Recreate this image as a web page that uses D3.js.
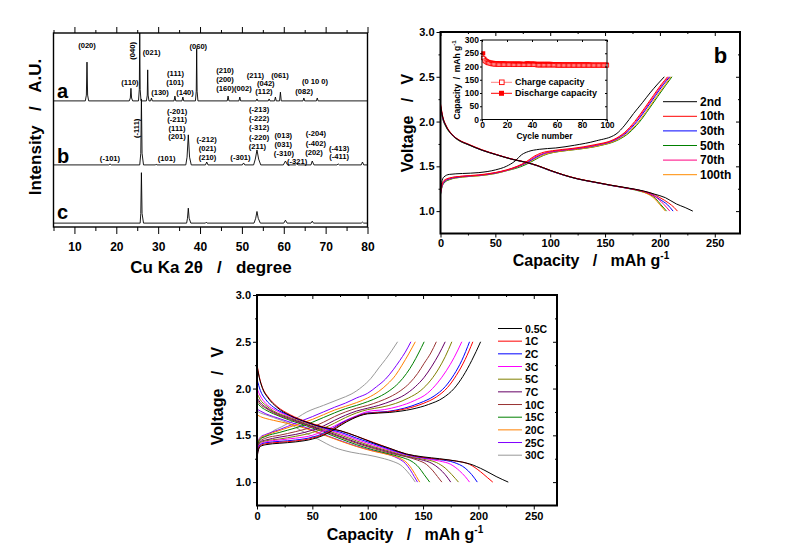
<!DOCTYPE html>
<html><head><meta charset="utf-8">
<script src="https://cdn.jsdelivr.net/npm/d3@7/dist/d3.min.js"></script>
<style>
html,body{margin:0;padding:0;background:#fff;}
svg{display:block;}
</style></head>
<body>
<svg id="fig" width="794" height="547" xmlns="http://www.w3.org/2000/svg"></svg>
<script>
// ================= DATA =================
// --- Panel a: XRD patterns ([2theta, relative intensity]) ---
const xrdTicks = [10,20,30,40,50,60,70,80];
const xrdMinor = [5,15,25,35,45,55,65,75];
const xrdNames = ["a","b","c"];
const xrdOffsets = [65,32,2];
const xrdA = [[5,0],[12.6,0],[12.85,3],[13.0,20],[13.15,3],[13.4,0],[23.1,0],[23.35,1.5],[23.5,6.5],[23.65,1.5],[23.9,0],
 [25.3,0],[25.5,6],[25.6,35],[25.7,6],[25.9,0],[27.2,0],[27.4,3],[27.5,16],[27.6,3],[27.8,0],[28.2,0],[28.4,1.5],[28.6,0],
 [33.8,0],[34.0,2.5],[34.2,0],[35.7,0],[35.9,2],[36.1,0],[38.9,0],[39.1,5],[39.2,27],[39.3,5],[39.5,0],
 [46.5,0],[46.7,2.5],[46.9,0],[49.3,0],[49.5,2],[49.7,0],[53.4,0],[53.6,1],[53.8,0],[56.3,0],[56.5,1],[56.7,0],
 [57.8,0],[58.0,2],[58.2,0],[59.0,0],[59.2,4.5],[59.4,0],[64.6,0],[64.8,1.5],[65.0,0],[67.8,0],[68.0,1.5],[68.2,0],[80,0]];
const xrdB = [[5,0],[18.2,0],[18.5,0.5],[18.8,0],[25.6,0],[25.85,6],[26.0,34],[26.15,6],[26.5,0],[29.3,0],[29.5,0.4],[29.7,0],
 [36.6,0],[36.9,4],[37.2,15.5],[37.5,4],[37.9,0],[41.3,0],[41.6,1.5],[41.9,0],[50.1,0],[50.4,1],[50.7,0],
 [52.8,0],[53.2,3],[53.6,7.7],[54.0,3],[54.5,0],[59.9,0],[60.4,2],[60.9,0],[62.8,0],[63.1,0.6],[63.4,0],
 [66.5,0],[66.8,2],[67.2,0],[72.7,0],[73.0,0.5],[73.3,0],[78.5,0],[78.8,1.5],[79.1,0],[80,0]];
const xrdC = [[5,0],[25.7,0],[25.85,5],[26.0,26],[26.15,5],[26.5,0],[36.8,0],[37.0,2.5],[37.2,7.7],[37.4,2.5],[37.8,0],
 [41.3,0],[41.5,0.5],[41.7,0],[52.9,0],[53.3,2.5],[53.6,6],[53.9,2.5],[54.4,0],[60.0,0],[60.4,1.5],[60.8,0],
 [66.5,0],[66.8,1],[67.1,0],[78.5,0],[78.8,0.5],[79.1,0],[80,0]];
const xrdPatterns = [xrdA, xrdB, xrdC];
const xrdLabelsA = [["(020)",87,45],["(040)",132.5,50.8,true],["(021)",151.7,52.3],["(060)",198.3,46],
 ["(110)",130,81.7],["(111)",175.5,73.3],["(101)",175,81.7],["(130)",160,92.3],["(140)",185,91.7],
 ["(210)",225,70],["(200)",225,79.3],["(160)(002)",234,88.3],["(211)",255.5,74.8],["(061)",280,74.8],
 ["(042)",265.8,82.6],["(112)",264,91],["(0 10 0)",315,80.7],["(082)",304.2,91]];
const xrdLabelsB = [["(-111)",135.8,128.3,true],["(-201)",177.2,111],["(-211)",177.2,119.3],["(111)",177,127.7],["(201)",177,136],
 ["(-212)",206.7,139.3],["(021)",207.5,148.3],["(210)",207.5,156.7],["(-101)",110,157.7],["(101)",166.7,158.3],
 ["(-301)",240.5,156.7],["(-213)",259.2,109.3],["(-222)",259.2,118.3],["(-312)",259.2,127.3],["(-220)",259.2,136.7],
 ["(211)",257.5,146],["(013)",283.3,135],["(031)",283.3,144],["(-310)",284,152.7],["(-321)",297.2,160.5],
 ["(-204)",315.8,133.3],["(-402)",315.8,142.7],["(202)",314,152.3],["(-413)",339.2,147.7],["(-411)",339.2,156]];

// --- Panel b: cycling ([capacity mAh/g, voltage V]) ---
const capTicks = [0,50,100,150,200,250];
const capMinor = [25,75,125,175,225];
const vTicks = [1.0,1.5,2.0,2.5,3.0];
const vMinor = [1.25,1.75,2.25,2.75];
const bNames = ["2nd","10th","30th","50th","70th","100th"];
const bColors = ["#000000","#ff0000","#0000ff","#008000","#ff0080","#ff8c00"];
const bCharge = [
 [[0,1.22],[1,1.32],[3,1.38],[8,1.41],[20,1.42],[35,1.43],[50,1.46],[60,1.50],[68,1.56],[74,1.63],[80,1.665],[90,1.69],[105,1.705],[122,1.735],[142,1.785],[160,1.86],[168,1.96],[176,2.09],[184,2.21],[191,2.32],[198,2.42],[204,2.5]],
 [[0,1.2],[1,1.28],[3,1.34],[8,1.37],[20,1.39],[35,1.405],[50,1.43],[60,1.46],[70,1.50],[78,1.55],[85,1.61],[92,1.65],[102,1.675],[120,1.70],[140,1.74],[158,1.80],[168,1.88],[177,2.0],[186,2.15],[194,2.29],[201,2.41],[207,2.5]],
 [[0,1.19],[1,1.26],[3,1.32],[8,1.36],[20,1.385],[35,1.40],[50,1.425],[60,1.455],[70,1.495],[80,1.55],[87,1.60],[95,1.645],[105,1.67],[122,1.695],[142,1.735],[160,1.80],[170,1.88],[179,2.0],[188,2.15],[196,2.29],[203,2.41],[209,2.5]],
 [[0,1.18],[1,1.25],[3,1.31],[8,1.35],[20,1.38],[35,1.395],[50,1.42],[60,1.45],[72,1.49],[82,1.545],[90,1.60],[98,1.64],[108,1.665],[125,1.69],[145,1.73],[162,1.795],[172,1.875],[181,1.99],[190,2.14],[198,2.28],[205,2.40],[211,2.5]],
 [[0,1.2],[1,1.27],[3,1.33],[8,1.365],[20,1.39],[35,1.40],[50,1.43],[60,1.455],[70,1.50],[79,1.55],[86,1.605],[94,1.645],[104,1.67],[121,1.695],[141,1.735],[159,1.80],[169,1.88],[178,2.0],[187,2.15],[195,2.29],[202,2.41],[208,2.5]],
 [[0,1.19],[1,1.26],[3,1.32],[8,1.355],[20,1.38],[35,1.395],[50,1.42],[60,1.45],[71,1.495],[81,1.55],[89,1.60],[97,1.64],[107,1.665],[124,1.69],[144,1.73],[161,1.795],[171,1.875],[180,1.99],[189,2.14],[197,2.28],[204,2.40],[210,2.5]]
];
const bDischarge = [
 [[0,2.18],[2,2.05],[5,1.95],[10,1.86],[17,1.79],[25,1.745],[38,1.68],[51,1.63],[65,1.58],[78,1.545],[88,1.51],[100,1.455],[112,1.405],[125,1.36],[140,1.325],[155,1.29],[170,1.26],[185,1.225],[195,1.19],[205,1.15],[215,1.08],[223,1.04],[230,1.0]],
 [[0,2.2],[2,2.06],[5,1.96],[10,1.865],[17,1.795],[25,1.75],[38,1.685],[51,1.632],[65,1.582],[78,1.546],[88,1.51],[100,1.455],[112,1.405],[125,1.362],[140,1.325],[155,1.29],[170,1.258],[185,1.222],[192,1.2],[200,1.15],[208,1.09],[213,1.04],[216,1.0]],
 [[0,2.17],[2,2.04],[5,1.95],[10,1.86],[17,1.79],[25,1.745],[38,1.68],[51,1.63],[65,1.58],[78,1.544],[88,1.508],[100,1.452],[112,1.403],[125,1.36],[140,1.323],[155,1.288],[170,1.256],[185,1.22],[192,1.19],[200,1.13],[207,1.07],[212,1.0]],
 [[0,2.15],[2,2.03],[5,1.94],[10,1.855],[17,1.785],[25,1.742],[38,1.678],[51,1.628],[65,1.578],[78,1.542],[88,1.506],[100,1.45],[112,1.402],[125,1.358],[140,1.322],[155,1.287],[170,1.255],[184,1.215],[190,1.19],[196,1.14],[201,1.07],[206,1.0]],
 [[0,2.19],[2,2.05],[5,1.955],[10,1.862],[17,1.792],[25,1.748],[38,1.682],[51,1.631],[65,1.581],[78,1.545],[88,1.509],[100,1.454],[112,1.404],[125,1.36],[140,1.324],[155,1.289],[170,1.257],[185,1.22],[191,1.19],[198,1.14],[204,1.07],[209,1.0]],
 [[0,2.17],[2,2.04],[5,1.948],[10,1.858],[17,1.788],[25,1.744],[38,1.68],[51,1.63],[65,1.58],[78,1.546],[88,1.51],[100,1.456],[112,1.406],[125,1.362],[140,1.326],[155,1.29],[170,1.258],[183,1.22],[189,1.19],[195,1.14],[200,1.07],[205,1.0]]
];
// inset: capacity vs cycle number
const cycTicks = [0,20,40,60,80,100];
const insetCapTicks = [0,50,100,150,200,250,300];
const insetDischarge = [250,229,223,220,218,216,215,214,214,213,
 213,213,212,212,212,212,212,212,211,211,
 211,211,211,211,211,211,211,211,211,211,
 211,210,210,210,211,212,212,211,211,211,
 211,211,210,210,210,210,210,210,210,210,
 210,210,210,210,210,209,209,209,209,209,
 209,209,208,208,208,208,208,208,208,208,
 208,208,208,208,208,208,208,208,208,208,
 208,208,208,208,208,208,207,207,207,207,
 207,207,207,207,207,207,207,207,207,207];
const insetCharge = [232,222,218,215,213,212,210,209,209,208,
 208,208,207,207,207,207,207,207,207,207,
 207,207,207,207,206,206,206,206,206,206,
 206,206,206,206,206,206,206,206,206,206,
 206,206,206,205,205,205,205,205,205,205,
 205,205,205,205,205,205,205,205,205,204,
 204,204,204,204,204,204,204,204,204,204,
 204,204,204,204,204,204,204,204,204,204,
 204,204,204,204,204,204,204,204,204,204,
 204,204,204,204,204,204,204,204,204,204];

// --- Panel c: rate capability ---
const cNames = ["0.5C","1C","2C","3C","5C","7C","10C","15C","20C","25C","30C"];
const cColors = ["#000000","#ff0000","#0000ff","#ff00ff","#808000","#660066","#993333","#008000","#ff8000","#8000ff","#999999"];
const cCharge = [
 [[0,1.25],[1,1.33],[3,1.38],[8,1.40],[20,1.415],[35,1.43],[50,1.46],[60,1.50],[68,1.55],[76,1.61],[86,1.675],[100,1.73],[120,1.745],[140,1.78],[155,1.83],[168,1.90],[178,2.0],[186,2.13],[194,2.3],[202,2.5]],
 [[0,1.26],[1,1.34],[3,1.39],[8,1.41],[20,1.425],[35,1.44],[50,1.47],[60,1.51],[68,1.56],[76,1.62],[86,1.68],[100,1.735],[118,1.75],[135,1.785],[150,1.84],[162,1.91],[172,2.01],[180,2.14],[188,2.31],[195,2.5]],
 [[0,1.27],[1,1.35],[3,1.40],[8,1.42],[20,1.435],[35,1.45],[50,1.48],[60,1.52],[68,1.57],[76,1.63],[86,1.685],[100,1.74],[118,1.755],[133,1.79],[147,1.845],[160,1.92],[170,2.02],[178,2.15],[185,2.3],[192,2.5]],
 [[0,1.28],[1,1.36],[3,1.41],[8,1.43],[20,1.45],[35,1.47],[50,1.50],[60,1.545],[70,1.60],[80,1.66],[90,1.71],[100,1.755],[115,1.775],[128,1.81],[142,1.87],[154,1.95],[163,2.06],[171,2.19],[178,2.33],[185,2.5]],
 [[0,1.29],[1,1.37],[3,1.42],[8,1.44],[20,1.46],[35,1.49],[50,1.53],[60,1.575],[70,1.63],[80,1.69],[90,1.74],[100,1.775],[112,1.80],[125,1.84],[137,1.90],[148,1.98],[157,2.09],[164,2.21],[170,2.34],[176,2.5]],
 [[0,1.30],[1,1.38],[3,1.43],[8,1.45],[20,1.48],[35,1.51],[50,1.555],[60,1.60],[70,1.66],[80,1.715],[90,1.76],[100,1.79],[110,1.82],[122,1.87],[133,1.93],[143,2.02],[151,2.12],[158,2.24],[164,2.36],[170,2.5]],
 [[0,1.31],[1,1.39],[3,1.44],[8,1.47],[20,1.50],[35,1.54],[50,1.59],[60,1.64],[70,1.70],[80,1.75],[90,1.79],[100,1.82],[110,1.86],[120,1.91],[130,1.98],[138,2.06],[145,2.16],[151,2.27],[157,2.38],[162,2.5]],
 [[0,1.33],[1,1.41],[3,1.46],[8,1.49],[20,1.53],[35,1.58],[50,1.64],[60,1.69],[70,1.74],[80,1.785],[90,1.82],[100,1.86],[110,1.91],[120,1.98],[128,2.06],[135,2.16],[141,2.27],[146,2.38],[151,2.5]],
 [[0,1.34],[1,1.42],[3,1.47],[8,1.50],[20,1.55],[35,1.61],[50,1.67],[60,1.72],[70,1.77],[80,1.81],[90,1.85],[100,1.90],[110,1.97],[118,2.05],[125,2.14],[131,2.25],[137,2.37],[143,2.5]],
 [[0,1.35],[1,1.43],[3,1.48],[8,1.51],[20,1.56],[35,1.63],[50,1.70],[60,1.75],[70,1.80],[80,1.845],[90,1.90],[100,1.95],[108,2.02],[116,2.10],[123,2.2],[129,2.3],[134,2.39],[139,2.5]],
 [[0,1.36],[1,1.42],[3,1.46],[8,1.49],[15,1.55],[22,1.59],[30,1.64],[45,1.75],[60,1.82],[75,1.89],[85,1.94],[95,2.02],[103,2.11],[110,2.22],[116,2.31],[122,2.41],[127,2.5]]
];
const cDischarge = [
 [[0,2.24],[2,2.12],[5,2.0],[10,1.9],[18,1.80],[30,1.71],[45,1.64],[60,1.585],[75,1.55],[90,1.49],[105,1.42],[120,1.36],[135,1.30],[150,1.27],[165,1.25],[180,1.225],[192,1.195],[205,1.13],[216,1.06],[227,1.0]],
 [[0,2.26],[2,2.13],[5,2.01],[10,1.91],[18,1.81],[30,1.72],[45,1.645],[60,1.59],[75,1.55],[90,1.49],[105,1.425],[120,1.36],[135,1.30],[150,1.265],[165,1.245],[180,1.225],[192,1.19],[202,1.11],[208,1.05],[213,1.0]],
 [[0,2.1],[3,1.98],[8,1.88],[15,1.80],[30,1.71],[45,1.64],[60,1.58],[75,1.535],[90,1.47],[105,1.41],[120,1.35],[135,1.295],[150,1.26],[165,1.24],[178,1.21],[188,1.15],[194,1.08],[199,1.0]],
 [[0,2.0],[3,1.92],[8,1.84],[15,1.78],[30,1.70],[45,1.635],[60,1.575],[75,1.52],[90,1.455],[105,1.395],[120,1.34],[135,1.29],[150,1.255],[165,1.225],[175,1.19],[183,1.12],[188,1.06],[192,1.0]],
 [[0,1.95],[3,1.88],[8,1.82],[15,1.76],[30,1.69],[45,1.625],[60,1.565],[75,1.505],[90,1.44],[105,1.38],[120,1.33],[135,1.28],[150,1.245],[162,1.21],[170,1.15],[176,1.08],[182,1.0]],
 [[0,1.9],[3,1.85],[8,1.80],[15,1.75],[30,1.68],[45,1.615],[60,1.555],[75,1.49],[90,1.425],[105,1.37],[120,1.32],[135,1.275],[148,1.24],[158,1.20],[165,1.14],[170,1.08],[175,1.0]],
 [[0,1.88],[3,1.83],[8,1.79],[15,1.74],[30,1.67],[45,1.61],[60,1.545],[75,1.48],[90,1.415],[105,1.36],[120,1.31],[135,1.27],[145,1.235],[153,1.19],[159,1.12],[163,1.06],[167,1.0]],
 [[0,1.85],[3,1.81],[8,1.77],[15,1.73],[30,1.66],[45,1.60],[60,1.535],[75,1.465],[90,1.40],[105,1.345],[120,1.30],[132,1.26],[140,1.22],[146,1.16],[151,1.08],[156,1.0]],
 [[0,1.72],[3,1.70],[8,1.68],[15,1.66],[30,1.62],[45,1.57],[60,1.505],[75,1.44],[90,1.38],[105,1.33],[120,1.29],[130,1.25],[136,1.2],[141,1.12],[144,1.06],[147,1.0]],
 [[0,1.78],[3,1.76],[8,1.73],[15,1.70],[30,1.64],[45,1.58],[60,1.51],[75,1.445],[90,1.385],[105,1.335],[120,1.29],[128,1.25],[134,1.2],[139,1.12],[142,1.06],[145,1.0]],
 [[0,1.76],[3,1.74],[8,1.72],[15,1.69],[30,1.62],[40,1.55],[55,1.46],[70,1.37],[85,1.32],[100,1.29],[115,1.25],[123,1.22],[130,1.18],[136,1.11],[140,1.05],[143,1.0]]
];

// ================= DRAWING =================
const FONT = '"Liberation Sans", Arial, Helvetica, sans-serif';
const svg = d3.select("#fig");

function txt(g, s, x, y, fs, o = {}) {
  const t = g.append("text").attr("x", x).attr("y", y).attr("font-size", fs)
    .attr("font-family", FONT).attr("font-weight", "bold").attr("fill", o.fill || "#000")
    .attr("text-anchor", o.anchor || "start").style("white-space", "pre");
  if (o.baseline) t.attr("dominant-baseline", o.baseline);
  if (o.rotate) t.attr("transform", `rotate(${o.rotate},${x},${y})`);
  if (o.spacing) t.attr("letter-spacing", o.spacing);
  t.append("tspan").text(s);
  if (o.sup) t.append("tspan").attr("font-size", o.supSize || fs * 0.62).attr("dy", -fs * 0.42).text(o.sup);
  return t;
}
function axis(g, gen, tx, ty, fs) {
  const a = g.append("g").attr("transform", `translate(${tx},${ty})`).call(gen);
  a.select(".domain").remove();
  a.attr("font-family", FONT).attr("font-size", fs).attr("font-weight", "bold");
  a.selectAll("line").attr("stroke", "#000").attr("stroke-width", 1);
  a.selectAll("text").attr("fill", "#000");
  return a;
}
function frame(g, x0, y0, x1, y1, sw) {
  g.append("rect").attr("x", x0).attr("y", y0).attr("width", x1 - x0).attr("height", y1 - y0)
    .attr("fill", "none").attr("stroke", "#000").attr("stroke-width", sw);
}

// ---------- Panel a ----------
{
  const g = svg.append("g");
  const L = 53.5, R = 367.5, T = 33, B = 227;
  const x = d3.scaleLinear().domain([5, 80]).range([L, R]);
  const y = d3.scaleLinear().domain([0, 100]).range([B, T]);
  svg.append("clipPath").attr("id", "clipA").append("rect").attr("x", L).attr("y", T).attr("width", R - L).attr("height", B - T);
  xrdPatterns.forEach((p, i) => {
    g.append("path").datum(p).attr("clip-path", "url(#clipA)").attr("fill", "none")
      .attr("stroke", "#000").attr("stroke-width", 0.9).attr("stroke-linejoin", "round")
      .attr("d", d3.line().x(d => x(d[0])).y(d => y(d[1] + xrdOffsets[i])));
  });
  axis(g, d3.axisBottom(x).tickValues(xrdTicks).tickSize(7).tickPadding(8).tickFormat(d3.format("d")), 0, B, 12);
  axis(g, d3.axisBottom(x).tickValues(xrdMinor).tickSize(4).tickFormat(""), 0, B, 12);
  axis(g, d3.axisTop(x).tickValues(xrdTicks).tickSize(6).tickFormat(""), 0, T, 12);
  axis(g, d3.axisTop(x).tickValues(xrdMinor).tickSize(3).tickFormat(""), 0, T, 12);
  frame(g, L, T, R, B, 1.4);
  txt(g, xrdNames[0], 57, 98, 20);
  txt(g, xrdNames[1], 57, 163, 20);
  txt(g, xrdNames[2], 57, 219, 20);
  xrdLabelsA.concat(xrdLabelsB).forEach(l => {
    txt(g, l[0], l[1], l[2], 7.6, { anchor: "middle", baseline: "central", rotate: l[3] ? -90 : 0 });
  });
  txt(g, "Cu Ka 2θ   /   degree", 211, 273, 17, { anchor: "middle" });
  txt(g, "Intensity   /   A.U.", 41, 127, 17, { anchor: "middle", rotate: -90 });
}

// ---------- Panel b ----------
{
  const g = svg.append("g");
  const L = 440.5, R = 740, T = 32, B = 233.5;
  const x = d3.scaleLinear().domain([0, 273]).range([L, R]);
  const y = d3.scaleLinear().domain([0.75, 3.0]).range([B, T]);
  const line = d3.line().x(d => x(d[0])).y(d => y(d[1])).curve(d3.curveMonotoneX);
  const order = [3, 5, 2, 4, 1, 0];
  order.forEach(i => {
    g.append("path").datum(bCharge[i]).attr("fill", "none").attr("stroke", bColors[i]).attr("stroke-width", 1).attr("d", line);
    g.append("path").datum(bDischarge[i]).attr("fill", "none").attr("stroke", bColors[i]).attr("stroke-width", 1).attr("d", line);
  });
  axis(g, d3.axisBottom(x).tickValues(capTicks).tickSize(4).tickPadding(2).tickFormat(d3.format("d")), 0, B, 11);
  axis(g, d3.axisBottom(x).tickValues(capMinor).tickSize(2).tickFormat(""), 0, B, 11);
  axis(g, d3.axisLeft(y).tickValues(vTicks).tickSize(4).tickPadding(2).tickFormat(d3.format(".1f")), L, 0, 11);
  axis(g, d3.axisLeft(y).tickValues(vMinor).tickSize(2).tickFormat(""), L, 0, 11);
  axis(g, d3.axisLeft(y).tickValues(vTicks).tickSize(4).tickFormat(""), R, 0, 11);
  axis(g, d3.axisLeft(y).tickValues(vMinor).tickSize(2).tickFormat(""), R, 0, 11);
  axis(g, d3.axisBottom(x).tickValues(capTicks).tickSize(4).tickFormat(""), 0, T, 11);
  axis(g, d3.axisBottom(x).tickValues(capMinor).tickSize(2).tickFormat(""), 0, T, 11);
  frame(g, L, T, R, B, 2);
  txt(g, "b", 720.5, 63, 22, { anchor: "middle" });
  bNames.forEach((n, i) => {
    const yy = 101.7 + i * 14.6;
    g.append("line").attr("x1", 663).attr("x2", 697).attr("y1", yy).attr("y2", yy).attr("stroke", bColors[i]).attr("stroke-width", 1);
    txt(g, n, 700, yy, 12, { baseline: "central" });
  });
  txt(g, "Capacity   /   mAh g", 591, 266, 16, { anchor: "middle", sup: "-1", supSize: 10 });
  txt(g, "Voltage   /   V", 413, 123, 16, { anchor: "middle", rotate: -90 });

  // inset
  const iL = 482, iR = 607, iT = 40, iB = 119.5;
  const xi = d3.scaleLinear().domain([0, 100]).range([iL, iR]);
  const yi = d3.scaleLinear().domain([0, 300]).range([iB, iT]);
  g.append("rect").attr("x", iL).attr("y", iT).attr("width", iR - iL).attr("height", iB - iT).attr("fill", "#fff");
  const dis = insetDischarge.map((v, k) => [k + 1, v]);
  const chg = insetCharge.map((v, k) => [k + 1, v]);
  const il = d3.line().x(d => xi(d[0])).y(d => yi(d[1]));
  g.append("path").datum(dis).attr("fill", "none").attr("stroke", "#ff0000").attr("stroke-width", 1).attr("d", il);
  g.append("path").datum(chg).attr("fill", "none").attr("stroke", "#ff8080").attr("stroke-width", 1).attr("d", il);
  g.selectAll(".dsq").data(dis).join("rect").attr("class", "dsq")
    .attr("x", d => xi(d[0]) - 2).attr("y", d => yi(d[1]) - 2).attr("width", 4).attr("height", 4).attr("fill", "#ff0000");
  g.selectAll(".csq").data(chg).join("rect").attr("class", "csq")
    .attr("x", d => xi(d[0]) - 1.7).attr("y", d => yi(d[1]) - 1.7).attr("width", 3.4).attr("height", 3.4)
    .attr("fill", "#fff").attr("stroke", "#ff0000").attr("stroke-width", 0.8);
  axis(g, d3.axisBottom(xi).tickValues(cycTicks).tickSize(2).tickPadding(0.5).tickFormat(d3.format("d")), 0, iB, 8.5);
  axis(g, d3.axisLeft(yi).tickValues(insetCapTicks).tickSize(2).tickPadding(1).tickFormat(d3.format("d")), iL, 0, 8.5);
  axis(g, d3.axisTop(xi).tickValues(cycTicks).tickSize(-2).tickFormat(""), 0, iT, 9);
  axis(g, d3.axisRight(yi).tickValues(insetCapTicks).tickSize(-2).tickFormat(""), iR, 0, 9);
  frame(g, iL, iT, iR, iB, 1);
  txt(g, "Cycle number", (iL + iR) / 2, 138.5, 8.5, { anchor: "middle" });
  txt(g, "Capacity  /  mAh g", 460, 80, 8.5, { anchor: "middle", rotate: -90, sup: "-1", supSize: 6 });
  g.append("line").attr("x1", 491).attr("x2", 512).attr("y1", 82.3).attr("y2", 82.3).attr("stroke", "#ff8080").attr("stroke-width", 1);
  g.append("rect").attr("x", 499.5).attr("y", 80).attr("width", 4.6).attr("height", 4.6).attr("fill", "#fff").attr("stroke", "#ff0000").attr("stroke-width", 0.9);
  txt(g, "Charge capacity", 515, 82.3, 9, { baseline: "central" });
  g.append("line").attr("x1", 491).attr("x2", 512).attr("y1", 93.3).attr("y2", 93.3).attr("stroke", "#ff0000").attr("stroke-width", 1);
  g.append("rect").attr("x", 499).attr("y", 90.8).attr("width", 5).attr("height", 5).attr("fill", "#ff0000");
  txt(g, "Discharge capacity", 515, 93.3, 9, { baseline: "central" });
}

// ---------- Panel c ----------
{
  const g = svg.append("g");
  const L = 257, R = 557, T = 295, B = 505.5;
  const x = d3.scaleLinear().domain([0, 271]).range([L, R]);
  const y = d3.scaleLinear().domain([0.75, 3.0]).range([B, T]);
  const line = d3.line().x(d => x(d[0])).y(d => y(d[1])).curve(d3.curveMonotoneX);
  for (let i = cNames.length - 1; i >= 0; i--) {
    g.append("path").datum(cCharge[i]).attr("fill", "none").attr("stroke", cColors[i]).attr("stroke-width", 1).attr("d", line);
    g.append("path").datum(cDischarge[i]).attr("fill", "none").attr("stroke", cColors[i]).attr("stroke-width", 1).attr("d", line);
  }
  axis(g, d3.axisBottom(x).tickValues(capTicks).tickSize(4).tickPadding(3).tickFormat(d3.format("d")), 0, B, 11);
  axis(g, d3.axisBottom(x).tickValues(capMinor).tickSize(2).tickFormat(""), 0, B, 11);
  axis(g, d3.axisLeft(y).tickValues(vTicks).tickSize(4).tickPadding(2).tickFormat(d3.format(".1f")), L, 0, 11);
  axis(g, d3.axisLeft(y).tickValues(vMinor).tickSize(2).tickFormat(""), L, 0, 11);
  axis(g, d3.axisLeft(y).tickValues(vTicks).tickSize(4).tickFormat(""), R, 0, 11);
  axis(g, d3.axisLeft(y).tickValues(vMinor).tickSize(2).tickFormat(""), R, 0, 11);
  axis(g, d3.axisBottom(x).tickValues(capTicks).tickSize(4).tickFormat(""), 0, T, 11);
  axis(g, d3.axisBottom(x).tickValues(capMinor).tickSize(2).tickFormat(""), 0, T, 11);
  frame(g, L, T, R, B, 2);
  cNames.forEach((n, i) => {
    const yy = 328.5 + i * 12.67;
    g.append("line").attr("x1", 498).attr("x2", 522).attr("y1", yy).attr("y2", yy).attr("stroke", cColors[i]).attr("stroke-width", 1);
    txt(g, n, 525, yy, 10.5, { baseline: "central" });
  });
  txt(g, "Capacity   /   mAh g", 405, 540, 16, { anchor: "middle", sup: "-1", supSize: 10 });
  txt(g, "Voltage   /   V", 223, 396, 16, { anchor: "middle", rotate: -90 });
}
</script>
</body></html>
